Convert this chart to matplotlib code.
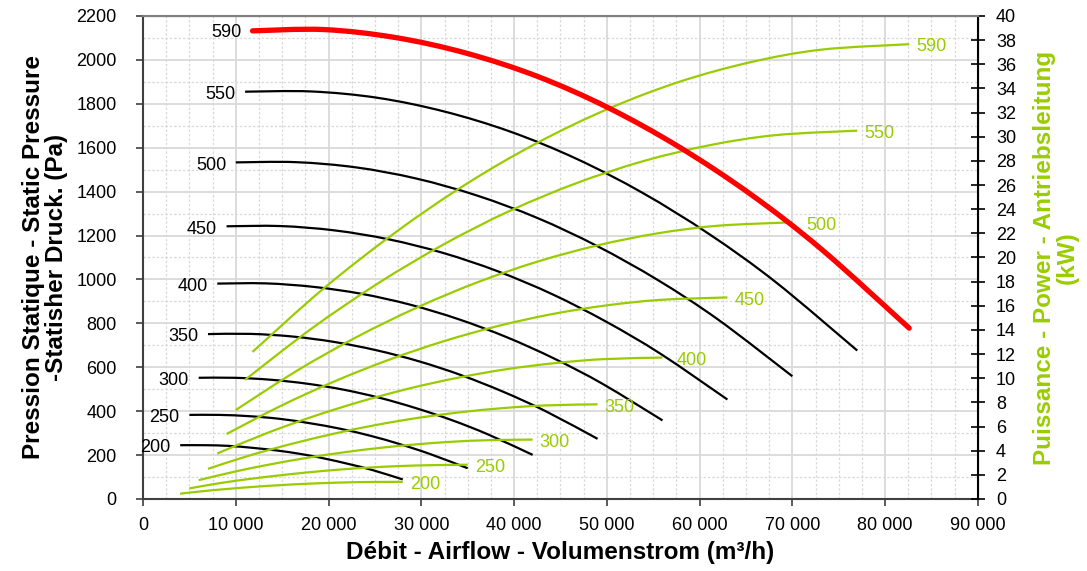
import matplotlib
matplotlib.use("Agg")
import matplotlib.pyplot as plt
from matplotlib.path import Path
from matplotlib.patches import PathPatch
from matplotlib.ticker import MultipleLocator, FuncFormatter

plt.rcParams['font.family'] = ['Liberation Sans', 'DejaVu Sans']

# fan speeds (rpm) of each curve
speeds = [200, 250, 300, 350, 400, 450, 500, 550, 590]

# airflow positions (m3/h)
airflow = [
    [4000, 6600, 9200, 11800, 14400, 17000, 19600, 22200, 24800, 28000],
    [5000, 8250, 11500, 14750, 18000, 21250, 24500, 27750, 31000, 35000],
    [6000, 9900, 13800, 17700, 21600, 25500, 29400, 33300, 37200, 42000],
    [7000, 11550, 16100, 20650, 25200, 29750, 34300, 38850, 43400, 49000],
    [8000, 13200, 18400, 23600, 28800, 34000, 39200, 44400, 49600, 56000],
    [9000, 14850, 20700, 26550, 32400, 38250, 44100, 49950, 55800, 63000],
    [10000, 16500, 23000, 29500, 36000, 42500, 49000, 55500, 62000, 70000],
    [11000, 18150, 25300, 32450, 39600, 46750, 53900, 61050, 68200, 77000],
    [11800, 19450, 27150, 34800, 42500, 50150, 57800, 65500, 73150, 82600],
]

# static pressure (Pa)
pressure = [
    [245, 245, 242, 233, 221, 205, 184, 159, 131, 89],
    [383, 383, 377, 365, 345, 320, 288, 249, 204, 140],
    [552, 552, 543, 525, 498, 461, 414, 359, 294, 201],
    [751, 752, 740, 715, 677, 627, 564, 488, 400, 274],
    [981, 982, 966, 934, 885, 819, 737, 638, 523, 358],
    [1242, 1243, 1223, 1182, 1120, 1037, 933, 807, 661, 453],
    [1533, 1534, 1510, 1459, 1382, 1280, 1151, 997, 817, 559],
    [1855, 1856, 1827, 1765, 1673, 1549, 1393, 1206, 988, 676],
    [2132, 2138, 2102, 2031, 1925, 1782, 1603, 1388, 1137, 778],
]

# absorbed power (kW)
power = [
    [0.44, 0.66, 0.84, 1.00, 1.13, 1.24, 1.32, 1.38, 1.41, 1.42],
    [0.88, 1.31, 1.66, 1.96, 2.22, 2.44, 2.61, 2.73, 2.80, 2.84],
    [1.56, 2.27, 2.88, 3.41, 3.86, 4.23, 4.52, 4.74, 4.87, 4.92],
    [2.50, 3.62, 4.58, 5.42, 6.14, 6.73, 7.19, 7.53, 7.75, 7.84],
    [3.77, 5.41, 6.85, 8.10, 9.17, 10.05, 10.75, 11.25, 11.58, 11.71],
    [5.38, 7.71, 9.76, 11.54, 13.06, 14.32, 15.31, 16.03, 16.49, 16.69],
    [7.37, 10.58, 13.40, 15.84, 17.93, 19.65, 21.00, 22.00, 22.63, 22.91],
    [9.87, 14.10, 17.84, 21.10, 23.88, 26.16, 27.97, 29.29, 30.13, 30.50],
    [12.18, 17.42, 22.04, 26.06, 29.49, 32.31, 34.54, 36.17, 37.21, 37.66],
]

GREEN = '#99cc00'


# smoothed line like the spreadsheet one: bezier segments through the points
def smooth_path(x, y):
    pts = list(zip(x, y))
    verts = [pts[0]]
    codes = [Path.MOVETO]
    for i in range(len(pts) - 1):
        p0 = pts[i - 1] if i > 0 else pts[i]
        p1 = pts[i]
        p2 = pts[i + 1]
        p3 = pts[i + 2] if i + 2 < len(pts) else pts[i + 1]
        c1 = (p1[0] + (p2[0] - p0[0]) / 6, p1[1] + (p2[1] - p0[1]) / 6)
        c2 = (p2[0] - (p3[0] - p1[0]) / 6, p2[1] - (p3[1] - p1[1]) / 6)
        verts += [c1, c2, p2]
        codes += [Path.CURVE4] * 3
    return Path(verts, codes)


def draw_curve(axis, x, y, color, lw, transform=None):
    patch = PathPatch(smooth_path(x, y), fill=False, edgecolor=color, lw=lw,
                      capstyle='round' if lw > 3 else 'butt',
                      transform=transform if transform is not None else axis.transData)
    axis.add_patch(patch)


fig = plt.figure(figsize=(10.87, 5.71), dpi=100)
ax = fig.add_axes([0.1316, 0.1261, 0.768, 0.846])
ax2 = ax.twinx()

ax.set_xlim(0, 90000)
ax.set_ylim(0, 2200)
ax2.set_ylim(0, 40)

# grid: solid majors, dashed minors
ax.xaxis.set_major_locator(MultipleLocator(10000))
ax.xaxis.set_minor_locator(MultipleLocator(2500))
ax.yaxis.set_major_locator(MultipleLocator(200))
ax.yaxis.set_minor_locator(MultipleLocator(100))
ax.grid(which='major', color='#d9d9d9', lw=1.3, ls='-')
ax.grid(which='minor', color='#d9d9d9', lw=0.9, ls=(0, (2, 1.5)))
ax.set_axisbelow(True)
ax.tick_params(which='minor', length=0)
ax.tick_params(which='major', labelsize=13, length=5, width=1.2, color='#404040')
ax.tick_params(axis='y', pad=14)
ax.tick_params(axis='x', pad=8)
ax.xaxis.set_major_formatter(FuncFormatter(lambda v, p: f"{int(v):,}".replace(",", " ")))

ax2.yaxis.set_major_locator(MultipleLocator(2))
ax2.tick_params(axis='y', direction='inout', length=10, width=1.2, labelsize=13, pad=8)

for side in ['left', 'bottom']:
    ax.spines[side].set_color('#404040')
    ax.spines[side].set_linewidth(1.5)
ax2.spines['right'].set_color('black')
ax2.spines['right'].set_linewidth(1.5)
ax2.spines['top'].set_color('#808080')
ax2.spines['top'].set_linewidth(1.5)
ax2.spines['left'].set_visible(False)
ax2.spines['bottom'].set_visible(False)

# pressure curves (black, top speed in red)
for n, q, p in zip(speeds, airflow, pressure):
    if n == 590:
        continue
    draw_curve(ax, q, p, 'black', 1.6)
    ax.annotate(str(n), (q[0], p[0]), xytext=(-7, -2), textcoords='offset points',
                ha='right', va='center', fontsize=13)

# power curves (green)
for n, q, w in zip(speeds, airflow, power):
    draw_curve(ax2, q, w, GREEN, 1.6)
    dx = 10 if n in (400, 500) else 5
    ax2.annotate(str(n), (q[-1], w[-1]), xytext=(dx, -2), textcoords='offset points',
                 ha='left', va='center', fontsize=13, color=GREEN)

# red curve drawn on top of the green ones
q590, p590 = airflow[-1], pressure[-1]
draw_curve(ax2, q590, p590, '#ff0000', 3.8, transform=ax.transData)
ax2.annotate('590', (q590[0], p590[0]), xycoords=ax.transData, xytext=(-8, -1),
             textcoords='offset points', ha='right', va='center', fontsize=13)

ax.set_xlim(0, 90000)
ax.set_ylim(0, 2200)
ax2.set_ylim(0, 40)

ax.set_xlabel('Débit - Airflow - Volumenstrom (m³/h)', fontsize=17.5, fontweight='bold', labelpad=5)
ax.set_ylabel('Pression Statique - Static Pressure\n-Statisher Druck. (Pa)', fontsize=17.5,
              fontweight='bold', labelpad=6, linespacing=1.0)
ax2.set_ylabel('Puissance - Power - Antriebsleitung\n(kW)', fontsize=17.5, fontweight='bold',
               color=GREEN, labelpad=12, linespacing=1.0)

fig.savefig('out.png', dpi=100)
